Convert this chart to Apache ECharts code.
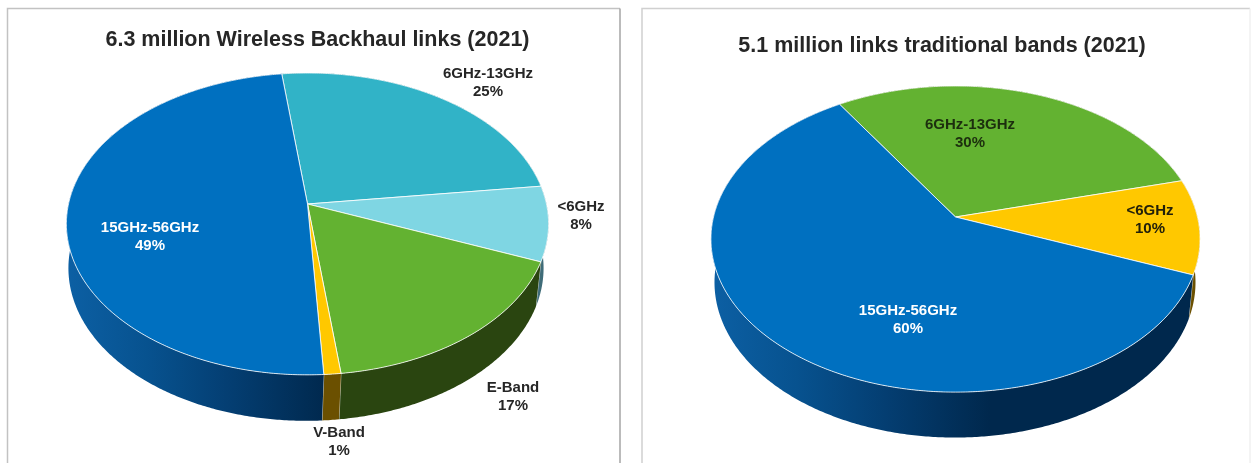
<!DOCTYPE html>
<html>
<head>
<meta charset="utf-8">
<style>html,body{margin:0;padding:0;background:#fff}#chart{width:1251px;height:463px}</style>
<script src="https://cdn.jsdelivr.net/npm/echarts@6/dist/echarts.min.js"></script>
</head>
<body>
<div id="chart"></div>
<script>
// Shares of wireless backhaul links, listed clockwise from the first slice edge
const allBandsTitle = '6.3 million Wireless Backhaul links (2021)';
const allBandsCategories = ['6GHz-13GHz', '<6GHz', 'E-Band', 'V-Band', '15GHz-56GHz'];
const allBandsValues = [25, 8, 17, 1, 49];

const traditionalTitle = '5.1 million links traditional bands (2021)';
const traditionalCategories = ['6GHz-13GHz', '<6GHz', '15GHz-56GHz'];
const traditionalValues = [30, 10, 60];

const FONT = '"Liberation Sans", Arial, sans-serif';
const BLUE_WALL = [[0, '#0c5fa3'], [0.3, '#07528f'], [0.62, '#043e72'], [1, '#00284d']];

// Perspective disc: apex is the slice centre on screen, persp the foreshortening factor
const pies = [{
  title: allBandsTitle, titleX: 317.5, titleY: 29,
  names: allBandsCategories, values: allBandsValues,
  startDeg: -7, cx: 307.5, apexY: 204, A: 239, B: 148.3, persp: 0.132,
  lowerCx: 306, lowerY: 248, lowerA: 235.5, lowerB: 150,
  gradient: [70, 328],
  faces: ['#31b3c7', '#7fd6e3', '#63b231', '#ffc800', '#0070c0'],
  walls: ['#1d6a76', '#3f6c78', '#2a4510', '#6b5000', null],
  labels: [[488, 83, '#262626'], [581, 216, '#262626'], [513, 397, '#262626'], [339, 442, '#262626'], [150, 237, '#ffffff']]
}, {
  title: traditionalTitle, titleX: 942, titleY: 35,
  names: traditionalCategories, values: traditionalValues,
  startDeg: -32.5, cx: 955.5, apexY: 217, A: 242, B: 149.9, persp: 0.144,
  lowerCx: 955, lowerY: 260, lowerA: 238, lowerB: 152,
  gradient: [714, 990],
  faces: ['#63b231', '#ffc800', '#0070c0'],
  walls: ['#2a4510', '#6b5000', null],
  labels: [[970, 134, '#1c2e0e'], [1150, 220, '#22200a'], [908, 320, '#ffffff']]
}];

// Screen position of a rim point at angle t (degrees clockwise from the far edge)
function rimPoint(p, t, lower) {
  const r = t * Math.PI / 180;
  const u = Math.sin(r), v = Math.cos(r), w = 1 + p.persp * v;
  return lower
    ? [p.lowerCx + p.lowerA * u / w, p.lowerY - p.lowerB * v / w]
    : [p.cx + p.A * u / w, p.apexY - p.B * v / w];
}

function arc(p, from, to, lower) {
  const pts = [];
  const n = Math.max(2, Math.ceil(Math.abs(to - from) * 2));
  for (let i = 0; i <= n; i++) pts.push(rimPoint(p, from + (to - from) * i / n, lower));
  return pts;
}

// One row per slice: start angle, end angle, slice index
function sliceRows(p) {
  const total = p.values.reduce((a, b) => a + b, 0);
  let t = p.startDeg;
  return p.values.map((v, i) => {
    const row = [t, t + v / total * 360, i];
    t = row[1];
    return row;
  });
}

function wallSeries(p) {
  return {
    type: 'custom', coordinateSystem: 'none', silent: true, z: 2,
    data: sliceRows(p),
    renderItem(params, api) {
      const a = api.value(0), b = api.value(1), i = api.value(2);
      const fill = p.walls[i] || {
        type: 'linear', global: true, x: p.gradient[0], y: 0, x2: p.gradient[1], y2: 0,
        colorStops: BLUE_WALL.map(s => ({ offset: s[0], color: s[1] }))
      };
      const top = rimPoint(p, b, false), bot = rimPoint(p, b, true);
      return {
        type: 'group',
        children: [{
          type: 'polygon',
          shape: { points: arc(p, a, b, false).concat(arc(p, b, a, true)) },
          style: { fill, stroke: null }
        }, {
          type: 'line',
          shape: { x1: top[0], y1: top[1], x2: bot[0], y2: bot[1] },
          style: { stroke: 'rgba(255,255,255,0.55)', lineWidth: 1 }
        }]
      };
    }
  };
}

function faceSeries(p) {
  return {
    type: 'custom', coordinateSystem: 'none', silent: true, z: 3,
    data: sliceRows(p),
    renderItem(params, api) {
      const a = api.value(0), b = api.value(1), i = api.value(2);
      return {
        type: 'polygon',
        shape: { points: [[p.cx, p.apexY]].concat(arc(p, a, b, false)) },
        style: { fill: p.faces[i], stroke: 'rgba(255,255,255,0.8)', lineWidth: 1, lineJoin: 'round' }
      };
    }
  };
}

function labelSeries(p) {
  return {
    type: 'custom', coordinateSystem: 'none', silent: true, z: 4,
    data: p.values.map((v, i) => [v, i]),
    renderItem(params, api) {
      const i = api.value(1), at = p.labels[i];
      return {
        type: 'text',
        style: {
          text: p.names[i] + '\n' + api.value(0) + '%',
          x: at[0], y: at[1], align: 'center', verticalAlign: 'middle',
          fontFamily: FONT, fontWeight: 'bold', fontSize: 15, lineHeight: 18, fill: at[2]
        }
      };
    }
  };
}

function frameLine(points, stroke) {
  return { type: 'polyline', z: -1, shape: { points }, style: { fill: null, stroke, lineWidth: 1.5 } };
}

const chart = echarts.init(document.getElementById('chart'), null, { renderer: 'canvas' });
chart.setOption({
  animation: false,
  backgroundColor: '#ffffff',
  title: pies.map(p => ({
    text: p.title, left: p.titleX, top: p.titleY, textAlign: 'center', padding: 0,
    textStyle: { fontFamily: FONT, fontWeight: 'bold', fontSize: 21.5, color: '#262626' }
  })),
  graphic: [
    frameLine([[7.5, 463], [7.5, 8.5], [620, 8.5]], '#c2c2c2'),
    frameLine([[620, 8.5], [620, 463]], '#a4a4a4'),
    frameLine([[642, 463], [642, 8.5], [1250, 8.5]], '#d0d0d0'),
    frameLine([[1250, 8.5], [1250, 463]], '#f0f0f0')
  ],
  series: pies.flatMap(p => [wallSeries(p), faceSeries(p), labelSeries(p)])
});
</script>
</body>
</html>
